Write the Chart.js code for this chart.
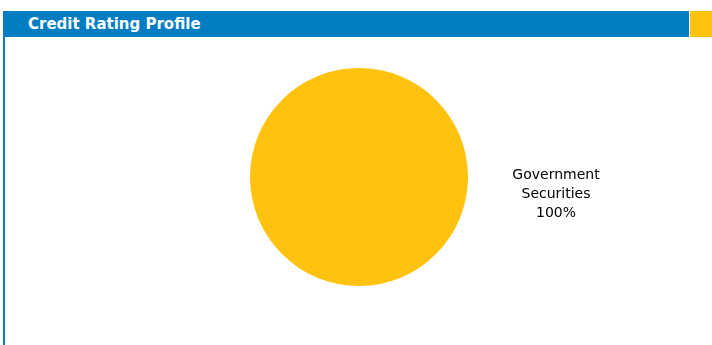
<!DOCTYPE html>
<html><head><meta charset="utf-8">
<script src="https://cdn.jsdelivr.net/npm/chart.js@4"></script>
<style>
html,body{margin:0;padding:0;background:#fff;width:712px;height:345px;overflow:hidden;}
#hdr{position:absolute;left:3px;top:11px;width:686px;height:26px;background:#027dc4;}
#hdr span{position:absolute;left:25px;top:4px;color:#fff;font:bold 15px "DejaVu Sans",sans-serif;}
#sq{position:absolute;left:690px;top:11px;width:22px;height:26px;background:#ffc20e;}
#lb{position:absolute;left:3px;top:37px;width:2px;height:308px;background:#027dc4;}
#wrap{position:absolute;left:0;top:37px;width:712px;height:308px;}
</style></head><body>
<div id="hdr"><span>Credit Rating Profile</span></div>
<div id="sq"></div>
<div id="lb"></div>
<div id="wrap"><canvas id="c"></canvas></div>
<script>
const categories = ["Government Securities"];
const values = [100];
const colors = ["#ffc30f"];

const labelPlugin = {
  id: 'sideLabel',
  afterDraw(chart) {
    const arc = chart.getDatasetMeta(0).data[0];
    const ctx = chart.ctx;
    ctx.save();
    ctx.fillStyle = '#000';
    ctx.font = '14px "DejaVu Sans", sans-serif';
    ctx.textAlign = 'center';
    ctx.textBaseline = 'middle';
    const x = arc.x + 197, y = arc.y + 17;
    const words = categories[0].split(' ');
    ctx.fillText(words[0], x, y - 19);
    ctx.fillText(words[1], x, y);
    ctx.fillText(values[0] + '%', x, y + 19);
    ctx.restore();
  }
};

new Chart(document.getElementById('c'), {
  type: 'pie',
  data: { labels: categories, datasets: [{ data: values, backgroundColor: colors, borderWidth: 0 }] },
  options: {
    responsive: true, maintainAspectRatio: false, animation: false,
    layout: { padding: { left: 250, right: 244, top: 31, bottom: 59 } },
    plugins: { legend: { display: false }, tooltip: { enabled: false } }
  },
  plugins: [labelPlugin]
});
</script>
</body></html>
